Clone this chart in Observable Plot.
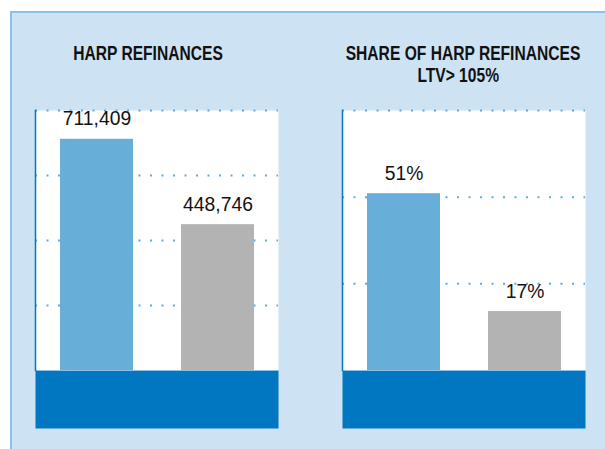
<!DOCTYPE html>
<html>
<head>
<meta charset="utf-8">
<script src="https://cdn.jsdelivr.net/npm/d3@7"></script>
<script src="https://cdn.jsdelivr.net/npm/@observablehq/plot@0.6"></script>
<style>
  body { margin: 0; width: 605px; height: 449px; overflow: hidden; background: #fff; position: relative;
         font-family: "Liberation Sans", Arial, sans-serif; }
  #panel { position: absolute; left: 10px; top: 11px; width: 600px; height: 440px; background: #cde3f3;
           border-left: 2px solid #8dc0e4; border-top: 2px solid #8dc0e4; }
  .title { position: absolute; font-weight: bold; font-size: 19.5px; line-height: 21.5px; text-align: center;
           color: #111; white-space: nowrap; transform: scaleX(0.8); transform-origin: 50% 50%; }
  .chart { position: absolute; top: 90px; }
</style>
</head>
<body>
<div id="panel"></div>
<div class="title" id="t1" style="left:-2px; top:43px; width:300px;"></div>
<div class="title" id="t2" style="left:313px; top:43px; width:300px;"></div>
<div class="chart" id="c1" style="left:35px;"></div>
<div class="chart" id="c2" style="left:342px;"></div>
<script>
// ---- data ----
const categories = ["Series A", "Series B"];
const refinanceValues = [711409, 448746];
const refinanceLabels = ["711,409", "448,746"];
const shareValues = [51, 17];
const shareLabels = ["51%", "17%"];
const refinanceTicks = [200000, 400000, 600000, 800000];
const shareTicks = [25, 50, 75];
const titles = ["HARP REFINANCES", ["SHARE OF HARP REFINANCES", "LTV> 105%"]];
const barColors = ["#67aed9", "#b3b3b3"];

document.getElementById("t1").textContent = titles[0];
const t2 = document.getElementById("t2");
t2.append(titles[1][0], document.createElement("br"));
const l2 = document.createElement("span");
l2.style.position = "relative"; l2.style.left = "-6px";
l2.textContent = titles[1][1];
t2.append(l2);

const W = 243, H = 338, MT = 20, MB = 58;
const font = '"Liberation Sans", Arial, sans-serif';

function makeChart(values, labels, ticks, yMax) {
  const data = categories.map((c, i) => ({cat: c, value: values[i], label: labels[i]}));
  const svg = Plot.plot({
    width: W, height: H,
    marginTop: MT, marginBottom: MB, marginLeft: 0, marginRight: 0,
    style: {background: "transparent", overflow: "visible", fontFamily: font},
    x: {type: "band", domain: categories, paddingInner: 0.4, paddingOuter: 0.2, axis: null},
    y: {domain: [0, yMax], axis: null},
    color: {domain: categories, range: barColors},
    marks: [
      Plot.frame({fill: "white", stroke: null}),
      Plot.frame({fill: "#0077c0", stroke: null, insetTop: H - MT - MB, insetBottom: -MB}),
      Plot.gridY(ticks, {stroke: "#5fa9dd", strokeOpacity: 1, strokeWidth: 2, strokeDasharray: "2,9.5"}),
      Plot.barY(data, {x: "cat", y: "value", fill: "cat"}),
      Plot.ruleY([0], {stroke: "#8dc0e4", strokeWidth: 1}),
      Plot.frame({anchor: "left", stroke: "#0077c0", strokeWidth: 1.5}),
      Plot.text(data, {x: "cat", y: "value", text: "label", dy: -14, lineAnchor: "bottom",
                       fontSize: 21, fill: "#111", fontFamily: font})
    ]
  });
  // condense the value labels horizontally (the reference uses a condensed face)
  d3.select(svg).selectAll("text").each(function() {
    const t = this.getAttribute("transform") || "";
    this.setAttribute("transform", t + " scale(0.92,1)");
  });
  return svg;
}

document.getElementById("c1").append(makeChart(refinanceValues, refinanceLabels, refinanceTicks, 800000));
document.getElementById("c2").append(makeChart(shareValues, shareLabels, shareTicks, 75));
</script>
</body>
</html>
